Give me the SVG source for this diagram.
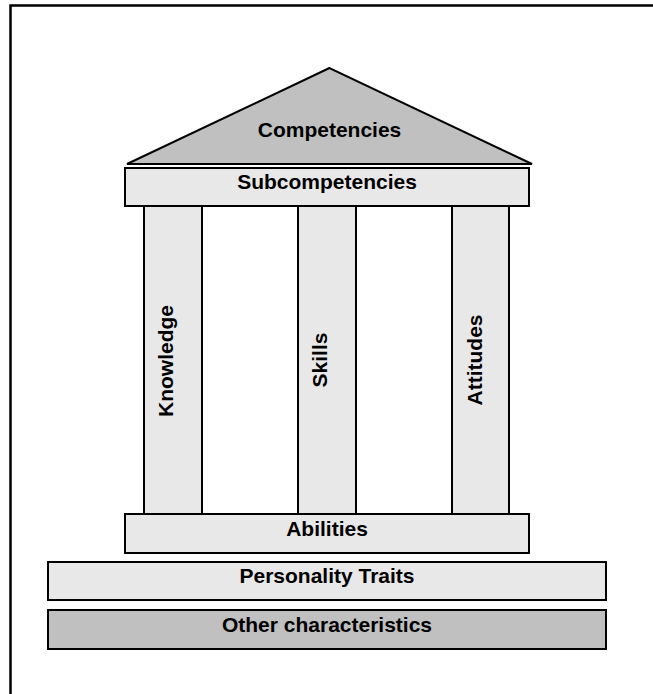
<svg xmlns="http://www.w3.org/2000/svg" width="653" height="694" viewBox="0 0 653 694">
<style>
.light{fill:#e8e8e8;stroke:#000;stroke-width:2}
.dark{fill:#c0c0c0;stroke:#000;stroke-width:2}
text{font-family:"Liberation Sans",Arial,sans-serif;font-weight:bold;font-size:21px;fill:#000;text-anchor:middle}
</style>
<rect width="653" height="694" fill="#fff"/>
<path d="M10.5,694 V5.5 H653" fill="none" stroke="#000" stroke-width="2.5"/>
<g id="connectors"/>
<g id="competencies">
<polygon class="dark" points="329.5,68 127,164 532,164"/>
<text x="329.5" y="137">Competencies</text>
</g>
<g id="subcompetencies">
<rect class="light" x="125" y="168" width="404" height="38"/>
<text x="327" y="189">Subcompetencies</text>
</g>
<g id="knowledge">
<rect class="light" x="144" y="206" width="58" height="308"/>
<text transform="translate(173,361) rotate(-90)">Knowledge</text>
</g>
<g id="skills">
<rect class="light" x="298" y="206" width="58" height="308"/>
<text transform="translate(327,360) rotate(-90)">Skills</text>
</g>
<g id="attitudes">
<rect class="light" x="452" y="206" width="57" height="308"/>
<text transform="translate(482,360) rotate(-90)">Attitudes</text>
</g>
<g id="abilities">
<rect class="light" x="125" y="514" width="404" height="39"/>
<text x="327" y="536">Abilities</text>
</g>
<g id="personality">
<rect class="light" x="48" y="562" width="558" height="38"/>
<text x="327" y="583">Personality Traits</text>
</g>
<g id="other">
<rect class="dark" x="48" y="610" width="558" height="39"/>
<text x="327" y="632">Other characteristics</text>
</g>
</svg>
